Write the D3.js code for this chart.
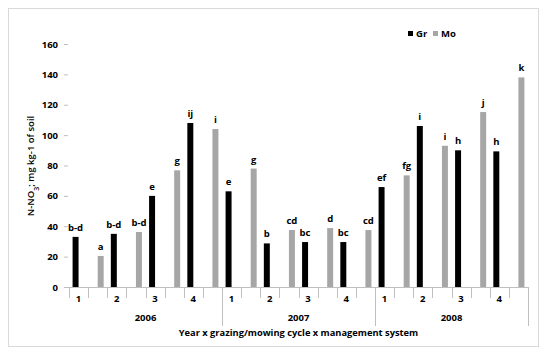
<!DOCTYPE html>
<html><head><meta charset="utf-8">
<script src="https://cdn.jsdelivr.net/npm/d3@7"></script>
<style>body{margin:0;background:#fff}svg{display:block}text{font-family:"Open Sans",sans-serif;font-weight:700;fill:#000}</style>
</head><body><svg id="c" width="550" height="357"></svg>
<script>
const years = ["2006","2007","2008"];
const cycleLabels = ["1","","2","","3","","4",""];
const series = ["Gr","Mo"];
const grValues = [33,null,35,null,60,null,108,null, 63,null,28.7,null,29.6,null,29.6,null, 65.8,null,106,null,90,null,89.3,null];
const moValues = [null,20.4,null,36.2,null,76.8,null,104, null,78,null,37.5,null,38.8,null,37.5, null,73.5,null,93,null,115.2,null,138];
const grLetters = ["b-d","","b-d","","e","","ij","", "e","","b","","bc","","bc","", "ef","","i","","h","","h",""];
const moLetters = ["","a","","b-d","","g","","i", "","g","","cd","","d","","cd", "","fg","","i","","j","","k"];
const yTicks = [0,20,40,60,80,100,120,140,160];
const colors = {Gr:"#000000", Mo:"#a6a6a6"};

const svg = d3.select("#c");
const L = 69, R = 528, T = 44, B = 287;
const cats = d3.range(years.length * cycleLabels.length);
const x0 = d3.scaleBand().domain(cats).range([L, R]);
const x1 = d3.scaleBand().domain(series).range([0, x0.bandwidth()]).paddingOuter(0.6);
const y = d3.scaleLinear().domain([0,160]).range([B, T]);

// chart border
svg.append("rect").attr("x",8.5).attr("y",8.5).attr("width",530).attr("height",338)
  .attr("fill","none").attr("stroke","#d9d9d9");

// y axis ticks & labels
const yAxis = d3.axisLeft(y).tickValues(yTicks).tickSize(4).tickPadding(6);
const gy = svg.append("g").attr("transform",`translate(${L-1},0)`).call(yAxis);
gy.select(".domain").remove();
gy.selectAll(".tick line").attr("stroke","#bfbfbf");
gy.selectAll(".tick text").style("font-size","9.5px").style("font-family","'Open Sans',sans-serif").style("font-weight","700").attr("fill","#000");

// x axis line
svg.append("line").attr("x1",L-5).attr("x2",R).attr("y1",B+0.5).attr("y2",B+0.5).attr("stroke","#bfbfbf");

// separators
cats.forEach(i => {
  const xs = Math.round(x0(i)) + 0.5;
  const isYear = i % cycleLabels.length === 0 && i > 0;
  svg.append("line").attr("x1",xs).attr("x2",xs).attr("y1",B).attr("y2", isYear ? 326 : 298).attr("stroke","#bfbfbf");
});
svg.append("line").attr("x1",R+0.5).attr("x2",R+0.5).attr("y1",B).attr("y2",326).attr("stroke","#bfbfbf");

// cycle labels
cats.forEach(i => {
  svg.append("text").attr("x", x0(i) + x0.bandwidth()/2).attr("y",302).attr("text-anchor","middle")
    .style("font-size","9.5px").text(cycleLabels[i % cycleLabels.length]);
});
// year labels
years.forEach((yr, k) => {
  const a = x0(k*cycleLabels.length), b = x0((k+1)*cycleLabels.length - 1) + x0.bandwidth();
  svg.append("text").attr("x",(a+b)/2).attr("y",321).attr("text-anchor","middle").style("font-size","9.5px").text(yr);
});
// x title
svg.append("text").attr("x",(L+R)/2).attr("y",336).attr("text-anchor","middle").style("font-size","9.3px")
  .text("Year x grazing/mowing cycle x management system");

// y title
const yt = svg.append("text").attr("transform","translate(34,166) rotate(-90)").attr("text-anchor","middle")
  .style("font-size","9.5px").style("font-weight","600");
yt.append("tspan").text("N-NO");
yt.append("tspan").attr("baseline-shift","sub").style("font-size","7px").text("3");
yt.append("tspan").text("; mg kg-1 of soil");

// bars
const rows = [];
cats.forEach(i => {
  rows.push({cat:i, s:"Gr", v:grValues[i], lab:grLetters[i]});
  rows.push({cat:i, s:"Mo", v:moValues[i], lab:moLetters[i]});
});
const data = rows.filter(d => d.v !== null);
svg.append("g").selectAll("rect").data(data).join("rect")
  .attr("x", d => x0(d.cat) + x1(d.s)).attr("width", x1.bandwidth())
  .attr("y", d => y(d.v)).attr("height", d => y(0) - y(d.v))
  .attr("fill", d => colors[d.s]);
svg.append("g").selectAll("text").data(data).join("text")
  .attr("x", d => x0(d.cat) + x1(d.s) + x1.bandwidth()/2)
  .attr("y", d => y(d.v) - 6).attr("text-anchor","middle").style("font-size","9.5px")
  .text(d => d.lab);

// legend
const lg = svg.append("g").attr("transform","translate(408,31)");
series.forEach((s, k) => {
  const g = lg.append("g").attr("transform",`translate(${k*25},0)`);
  g.append("rect").attr("width",5).attr("height",5).attr("fill",colors[s]);
  g.append("text").attr("x",8).attr("y",5.5).style("font-size","9.5px").text(s);
});
</script></body></html>
